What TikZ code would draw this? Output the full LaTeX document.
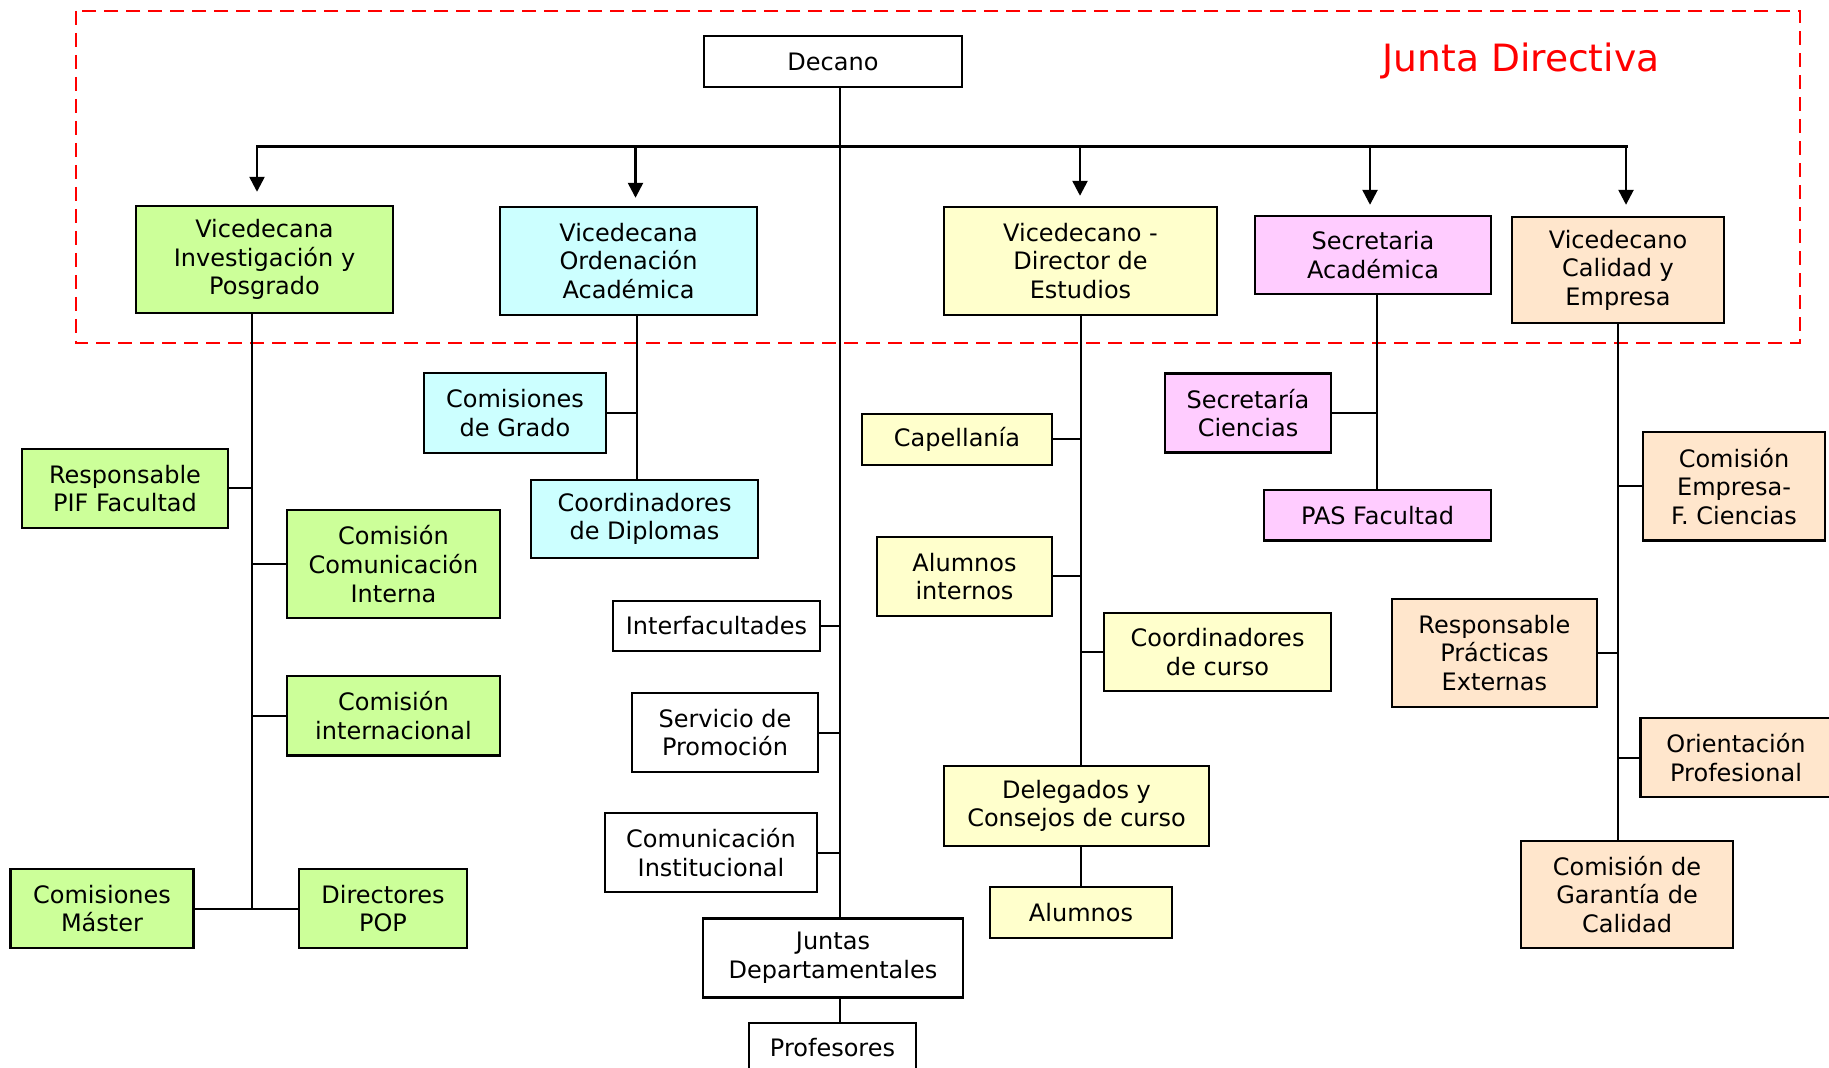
\documentclass[tikz,border=0pt]{standalone}
\usepackage{fontspec}
\setmainfont{DejaVu Sans}
\usetikzlibrary{arrows.meta}
\definecolor{verde}{HTML}{CCFF99}
\definecolor{celeste}{HTML}{CCFFFF}
\definecolor{amarillo}{HTML}{FFFFCC}
\definecolor{rosa}{HTML}{FFCCFF}
\definecolor{melocoton}{HTML}{FFE6CC}
\tikzstyle{unit} = [rectangle, draw=black, line width=1.2pt, text centered, align=center, inner sep=2pt, font=\fontsize{12}{14.3}\selectfont]
\tikzstyle{blanco} = [unit, fill=white]
\tikzstyle{investigacion} = [unit, fill=verde]
\tikzstyle{ordenacion} = [unit, fill=celeste]
\tikzstyle{estudios} = [unit, fill=amarillo]
\tikzstyle{secretaria} = [unit, fill=rosa]
\tikzstyle{calidad} = [unit, fill=melocoton]
\tikzstyle{arrow} = [line width=1.25pt, -{Triangle[length=7.5pt,width=7.5pt]}]
\tikzstyle{bus} = [line width=1.5pt, line cap=rect]
\tikzstyle{trunk} = [line width=1.2pt, -]
\tikzstyle{link} = [line width=1pt, -]
\tikzstyle{frame} = [draw=red, line width=1.25pt, dash pattern=on 7pt off 4pt]

\begin{document}
\begin{tikzpicture}[x=0.5pt, y=-0.5pt]
\useasboundingbox (0,0) rectangle (1829,1068);

% Junta Directiva
\draw [frame] (76,11) rectangle (1800,343);
\node (jd) [text=red, font=\fontsize{18.8}{22}\selectfont] at (1521,61) {Junta Directiva};

% Decano
\node (decano) [blanco, minimum width=129pt, minimum height=25.5pt] at (833,61.5) {Decano};

% Vicedecanatos
\node (vip) [investigacion, minimum width=128.5pt, minimum height=53.5pt] at (264.5,259.5) {Vicedecana\\Investigación y\\Posgrado};
\node (voa) [ordenacion, minimum width=128.5pt, minimum height=54pt] at (628.5,261) {Vicedecana\\Ordenación\\Académica};
\node (vde) [estudios, minimum width=136.5pt, minimum height=54pt] at (1080.5,261) {Vicedecano -\\Director de\\Estudios};
\node (sa) [secretaria, minimum width=118pt, minimum height=39pt] at (1373,255) {Secretaria\\Académica};
\node (vce) [calidad, minimum width=106pt, minimum height=53pt] at (1618,270) {Vicedecano\\Calidad y\\Empresa};

% Investigacion y Posgrado
\node (pif) [investigacion, minimum width=103pt, minimum height=39.5pt] at (125,488.5) {Responsable\\PIF Facultad};
\node (cci) [investigacion, minimum width=106.5pt, minimum height=54pt] at (393.5,564) {Comisión\\Comunicación\\Interna};
\node (cint) [investigacion, minimum width=106.5pt, minimum height=39.75pt] at (393.5,715.75) {Comisión\\internacional};
\node (cmaster) [investigacion, minimum width=91.6pt, minimum height=39.5pt] at (102,908.5) {Comisiones\\Máster};
\node (dpop) [investigacion, minimum width=84pt, minimum height=39.5pt] at (383,908.5) {Directores\\POP};

% Ordenacion Academica
\node (cgrado) [ordenacion, minimum width=91pt, minimum height=40pt] at (515,413) {Comisiones\\de Grado};
\node (cdipl) [ordenacion, minimum width=113.5pt, minimum height=39pt] at (644.5,519) {Coordinadores\\de Diplomas};

% Decano (servicios)
\node (interf) [blanco, minimum width=103.5pt, minimum height=25pt] at (716.5,626) {Interfacultades};
\node (servp) [blanco, minimum width=93pt, minimum height=39.5pt] at (725,732.5) {Servicio de\\Promoción};
\node (comi) [blanco, minimum width=106pt, minimum height=39.5pt] at (711,852.5) {Comunicación\\Institucional};
\node (juntas) [blanco, minimum width=130pt, minimum height=39.5pt] at (833,958) {Juntas\\Departamentales};
\node (prof) [blanco, minimum width=83.5pt, minimum height=25pt] at (832.5,1048) {Profesores};

% Director de Estudios
\node (capell) [estudios, minimum width=95pt, minimum height=25.5pt] at (957,439.5) {Capellanía};
\node (alint) [estudios, minimum width=87.5pt, minimum height=39.5pt] at (964.5,576.5) {Alumnos\\internos};
\node (ccurso) [estudios, minimum width=113.5pt, minimum height=39pt] at (1217.5,652) {Coordinadores\\de curso};
\node (deleg) [estudios, minimum width=132.5pt, minimum height=40pt] at (1076.5,806) {Delegados y\\Consejos de curso};
\node (alumnos) [estudios, minimum width=91pt, minimum height=25.5pt] at (1081,912.5) {Alumnos};

% Secretaria Academica
\node (secci) [secretaria, minimum width=83pt, minimum height=39.5pt] at (1248,413) {Secretaría\\Ciencias};
\node (pas) [secretaria, minimum width=113.5pt, minimum height=25.3pt] at (1377.5,515.3) {PAS Facultad};

% Calidad y Empresa
\node (cemp) [calidad, minimum width=90.75pt, minimum height=54.3pt] at (1734,486.3) {Comisión\\Empresa-\\F. Ciencias};
\node (rpe) [calidad, minimum width=102.7pt, minimum height=54pt] at (1494.4,653) {Responsable\\Prácticas\\Externas};
\node (oprof) [calidad, minimum width=95.5pt, minimum height=39.5pt] at (1736,757.5) {Orientación\\Profesional};
\node (cgc) [calidad, minimum width=106pt, minimum height=53.5pt] at (1627,894.5) {Comisión de\\Garantía de\\Calidad};

% Bus
\coordinate (tk) at (840,147);
\coordinate (b1) at (257,147);
\coordinate (b2) at (635.5,147);
\coordinate (b3) at (1080,147);
\coordinate (b4) at (1370,147);
\coordinate (b5) at (1626,147);
\draw [bus] (b1) -- (b5);
\draw [arrow, shorten >=6.5pt] (b1) -- (b1 |- vip.north);
\draw [arrow, shorten >=4pt] (b2) -- (b2 |- voa.north);
\draw [arrow, shorten >=5pt] (b3) -- (b3 |- vde.north);
\draw [arrow, shorten >=5pt] (b4) -- (b4 |- sa.north);
\draw [arrow, shorten >=5.5pt] (b5) -- (b5 |- vce.north);

% Arrows
\draw [trunk] (decano.south -| tk) -- (juntas.north -| tk);
\draw [link] (interf.east) -- (interf.east -| tk);
\draw [link] (servp.east) -- (servp.east -| tk);
\draw [link] (comi.east) -- (comi.east -| tk);
\draw [link] (juntas.south -| tk) -- (prof.north -| tk);

\draw [link] ([xshift=-6.25pt]vip.south) -- ([xshift=-6.25pt]vip.south |- cmaster.east);
\draw [link] (pif.east) -- (pif.east -| 252,0);
\draw [link] (cci.west) -- (cci.west -| 252,0);
\draw [link] (cint.west) -- (cint.west -| 252,0);
\draw [link] (cmaster.east) -- (dpop.west);

\draw [link] ([xshift=4.25pt]voa.south) -- ([xshift=4.25pt]voa.south |- cdipl.north);
\draw [link] (cgrado.east) -- (cgrado.east -| 637,0);

\draw [link] (vde.south) -- (vde.south |- deleg.north);
\draw [link] (capell.east) -- (capell.east -| vde.south);
\draw [link] (alint.east) -- (alint.east -| vde.south);
\draw [link] (ccurso.west) -- (ccurso.west -| vde.south);
\draw [link] (vde.south |- deleg.south) -- (vde.south |- alumnos.north);

\draw [link] ([xshift=2pt]sa.south) -- ([xshift=2pt]sa.south |- pas.north);
\draw [link] (secci.east) -- (secci.east -| 1377,0);

\draw [link] (vce.south) -- (vce.south |- cgc.north);
\draw [link] (cemp.west) -- (cemp.west -| vce.south);
\draw [link] (rpe.east) -- (rpe.east -| vce.south);
\draw [link] (oprof.west) -- (oprof.west -| vce.south);

\end{tikzpicture}
\end{document}
